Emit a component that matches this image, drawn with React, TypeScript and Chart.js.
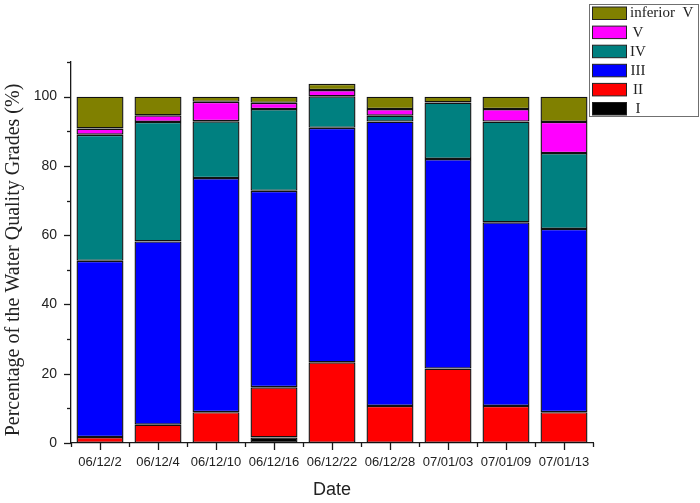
import { useEffect, useRef } from "react"
import { Chart, registerables } from "chart.js"

Chart.register(...registerables)

const dates = ["06/12/2", "06/12/4", "06/12/10", "06/12/16", "06/12/22", "06/12/28", "07/01/03", "07/01/09", "07/01/13"]

// percentage of each grade per sampling date (stacked from I at the bottom)
const gradeI = [0, 0, 0, 1.6, 0, 0, 0, 0, 0]
const gradeII = [1.7, 5.3, 8.9, 14.5, 23.3, 10.7, 21.5, 10.7, 8.9]
const gradeIII = [50.9, 52.9, 67.6, 56.7, 67.7, 82.1, 60.5, 53.0, 52.9]
const gradeIV = [36.4, 34.5, 16.4, 23.6, 9.1, 1.7, 16.3, 29.1, 21.9]
const gradeV = [1.8, 1.9, 5.6, 1.8, 1.8, 1.9, 0, 3.6, 9.0]
const inferiorV = [9.2, 5.4, 1.5, 1.8, 1.8, 3.6, 1.7, 3.6, 7.3]

const yTicks = [0, 20, 40, 60, 80, 100]

const yTitle = "Percentage of the Water Quality Grades (%)"

const axisColor = "#1a1a1a"

// Origin style tick marks: long ones at labels, short ones in between
const tickMarks = {
  id: "tickMarks",
  afterDraw(chart: Chart) {
    const { ctx } = chart
    const x = chart.scales.x
    const y = chart.scales.y
    ctx.save()
    ctx.strokeStyle = axisColor
    ctx.lineWidth = 1.3
    const line = (x1: number, y1: number, x2: number, y2: number) => {
      ctx.beginPath()
      ctx.moveTo(x1, y1)
      ctx.lineTo(x2, y2)
      ctx.stroke()
    }
    y.ticks.forEach((t) => {
      const py = Math.round(y.getPixelForValue(t.value)) + 0.5
      const len = yTicks.includes(t.value) ? 7 : 4
      line(x.left - len, py, x.left, py)
    })
    const n = dates.length
    dates.forEach((_, i) => {
      const px = Math.round(x.getPixelForValue(i)) + 0.5
      line(px, y.bottom, px, y.bottom + 7)
    })
    for (let i = 0; i <= n; i++) {
      const px = Math.round(x.left + (i * (x.right - x.left)) / n) + 0.5
      line(px, y.bottom, px, y.bottom + 4)
    }

    // y title, a little below the axis centre as in the original
    ctx.save()
    ctx.translate(14, 260)
    ctx.rotate(-Math.PI / 2)
    ctx.font = "20px 'Liberation Serif', 'Times New Roman', serif"
    ctx.fillStyle = "#222"
    ctx.textAlign = "center"
    ctx.textBaseline = "middle"
    ctx.fillText(yTitle, 0, 0)
    ctx.restore()

    ctx.restore()
  },
}

// boxed legend in the top right corner, highest grade first
const boxLegend = {
  id: "boxLegend",
  afterDraw(chart: Chart) {
    const { ctx } = chart
    const items = [...chart.data.datasets].reverse()
    const left = 589.5
    const top = 4.5
    ctx.save()
    ctx.fillStyle = "#ffffff"
    ctx.fillRect(left, top, 109, 112)
    ctx.strokeStyle = "#707070"
    ctx.lineWidth = 1
    ctx.strokeRect(left, top, 109, 112)
    ctx.font = "15px 'Liberation Serif', serif"
    ctx.textBaseline = "middle"
    items.forEach((ds, i) => {
      const sy = 7 + i * 19.1
      ctx.fillStyle = ds.backgroundColor as string
      ctx.fillRect(592.5, sy, 34, 12.5)
      ctx.strokeStyle = "#222"
      ctx.strokeRect(592.5, sy, 34, 12.5)
      const label = ds.label || ""
      const w = ctx.measureText(label).width
      ctx.fillStyle = "#222"
      ctx.textAlign = "center"
      ctx.fillText(label, Math.max(630 + w / 2, 638), sy + 6.5)
    })
    ctx.restore()
  },
}

export default function App() {
  const canvasRef = useRef<HTMLCanvasElement>(null)

  useEffect(() => {
    if (!canvasRef.current) return
    const ctx = canvasRef.current.getContext("2d")
    if (!ctx) return

    const series = [
      { label: "I", data: gradeI, color: "#000000" },
      { label: "II", data: gradeII, color: "#ff0000" },
      { label: "III", data: gradeIII, color: "#0000ff" },
      { label: "IV", data: gradeIV, color: "#008080" },
      { label: "V", data: gradeV, color: "#ff00ff" },
      { label: "inferior  V", data: inferiorV, color: "#808000" },
    ]

    const chart = new Chart(ctx, {
      type: "bar",
      data: {
        labels: dates,
        datasets: series.map((s) => ({
          label: s.label,
          data: s.data,
          backgroundColor: s.color,
          borderColor: "#111111",
          borderWidth: 1.4,
          borderSkipped: false,
          categoryPercentage: 1,
          barPercentage: 0.81,
        })),
      },
      options: {
        animation: false,
        responsive: true,
        maintainAspectRatio: false,
        layout: { padding: { top: 62, right: 107, left: 0, bottom: 0 } },
        plugins: {
          legend: { display: false },
          tooltip: { enabled: false },
        },
        scales: {
          x: {
            stacked: true,
            afterFit: (scale) => {
              scale.height = 60
            },
            grid: { display: false, drawTicks: true, tickLength: 7 },
            border: { display: true, color: axisColor, width: 1.3 },
            ticks: {
              color: "#222",
              padding: 5,
              maxRotation: 0,
              autoSkip: false,
              font: { family: "'Liberation Sans', Arial, sans-serif", size: 13 },
            },
            title: {
              display: true,
              text: "Date",
              color: "#222",
              padding: { top: 0, bottom: 2 },
              font: { family: "'Liberation Sans', Arial, sans-serif", size: 18 },
            },
          },
          y: {
            stacked: true,
            min: 0,
            max: 110,
            afterFit: (scale) => {
              scale.width = 71
            },
            afterBuildTicks: (scale) => {
              scale.ticks = scale.ticks.filter((t) => t.value % 10 === 0)
            },
            grid: { display: false, drawTicks: true, tickLength: 7 },
            border: { display: true, color: axisColor, width: 1.3 },
            ticks: {
              stepSize: 10,
              color: "#222",
              padding: 7,
              autoSkip: false,
              callback: (v) => (yTicks.includes(Number(v)) ? String(v) : ""),
              font: { family: "'Liberation Sans', Arial, sans-serif", size: 14 },
            },
            title: { display: false },
          },
        },
      },
      plugins: [tickMarks, boxLegend],
    })

    return () => {
      chart.destroy()
    }
  }, [])

  return (
    <div style={{ position: "absolute", left: 0, top: 0, width: 700, height: 503, background: "#fff" }}>
      <canvas ref={canvasRef}></canvas>
    </div>
  )
}
